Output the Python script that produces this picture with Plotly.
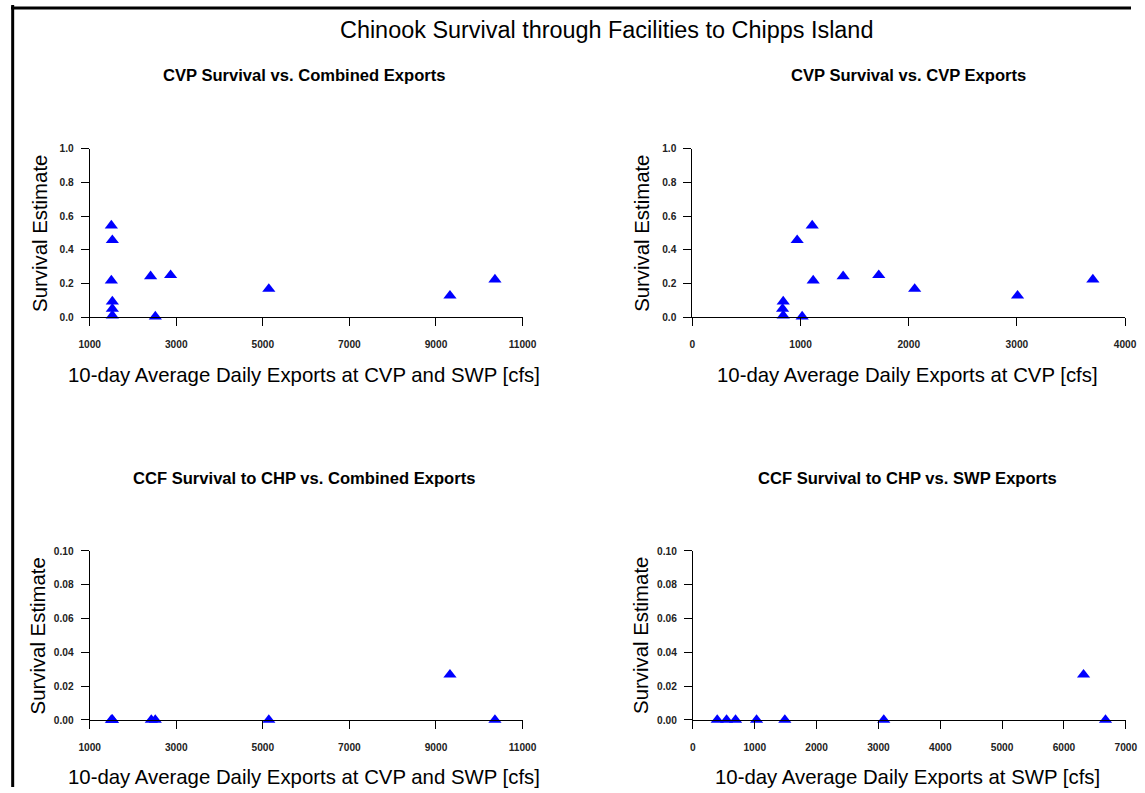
import plotly.graph_objects as go

W, H = 1145, 793

# ---------------- data ----------------
# Panel 1: CVP survival vs combined exports (CVP + SWP)
combined_exports_cvp = [1500, 1523, 1500, 1523, 1523, 1523, 2407, 2869, 2516, 5138, 9323, 10362]
cvp_survival = [0.545, 0.458, 0.218, 0.093, 0.050, 0.010, 0.243, 0.250, 0.004, 0.168, 0.128, 0.224]
# Panel 2: CVP survival vs CVP exports
cvp_exports = [1108, 969, 1117, 840, 834, 840, 1394, 1723, 1015, 2055, 3006, 3702]
# Panel 3: CCF survival to CHP vs combined exports
combined_exports_ccf = [1500, 1523, 1523, 2423, 2515, 5138, 9323, 10362]
ccf_survival = [0.0, 0.0, 0.0, 0.0, 0.0, 0.0, 0.0268, 0.0]
# Panel 4: CCF survival to CHP vs SWP exports
swp_exports = [393, 544, 689, 1029, 1486, 3086, 6317, 6672]

main_title = "Chinook Survival through Facilities to Chipps Island"
panel_titles = ["CVP Survival vs. Combined Exports", "CVP Survival vs. CVP Exports",
                "CCF Survival to CHP vs. Combined Exports", "CCF Survival to CHP vs. SWP Exports"]
x_titles = ["10-day Average Daily Exports at CVP and SWP [cfs]", "10-day Average Daily Exports at CVP [cfs]",
            "10-day Average Daily Exports at CVP and SWP [cfs]", "10-day Average Daily Exports at SWP [cfs]"]
y_title = "Survival Estimate"

x_ticks = [[1000, 3000, 5000, 7000, 9000, 11000], [0, 1000, 2000, 3000, 4000],
           [1000, 3000, 5000, 7000, 9000, 11000], [0, 1000, 2000, 3000, 4000, 5000, 6000, 7000]]
y_ticks_top = [0.0, 0.2, 0.4, 0.6, 0.8, 1.0]
y_ticks_bottom = [0.00, 0.02, 0.04, 0.06, 0.08, 0.10]

series = [(combined_exports_cvp, cvp_survival), (cvp_exports, cvp_survival),
          (combined_exports_ccf, ccf_survival), (swp_exports, ccf_survival)]

# ---------------- layout (target pixel boxes) ----------------
boxes = [  # (left, right, top, bottom) in px of the target picture
    (88.3, 521.7, 149.0, 317.3),
    (691.7, 1125.0, 149.0, 317.3),
    (88.3, 521.7, 551.0, 720.0),
    (692.3, 1125.7, 551.0, 720.0),
]
FONT = "Arial, Liberation Sans, sans-serif"

# the photographed page is shown slightly reduced and offset; compensate
SX, OX = 0.9794, 9.5
SY, OY = 0.986, 5.1
FS = 1 / 0.982


def px(x):
    return ((x - OX) / SX) / W


def py(y):
    return 1 - ((y - OY) / SY) / H


def f(s):
    return s * FS


fig = go.Figure()
layout = dict(width=W, height=H, margin=dict(l=0, r=0, t=0, b=0, pad=0),
              paper_bgcolor="white", plot_bgcolor="white", showlegend=False)

for i, ((xs, ys), (l, r, t, b)) in enumerate(zip(series, boxes)):
    n = "" if i == 0 else str(i + 1)
    fig.add_trace(go.Scatter(x=xs, y=ys, mode="markers", xaxis="x" + n, yaxis="y" + n,
                             marker=dict(symbol="triangle-up", size=f(11.3), color="#0000FF",
                                         line=dict(width=0)),
                             cliponaxis=False, hoverinfo="x+y"))
    xt = x_ticks[i]
    yt = y_ticks_top if i < 2 else y_ticks_bottom
    layout["xaxis" + n] = dict(domain=[px(l), px(r)], anchor="y" + n, range=[xt[0], xt[-1]],
                               tickvals=xt, ticktext=[str(v) for v in xt],
                               ticks="outside", ticklen=8, tickcolor="#000", tickwidth=1,
                               showline=True, linecolor="#000", linewidth=1,
                               showgrid=False, zeroline=False, ticklabelstandoff=10,
                               tickfont=dict(family=FONT, size=f(10), color="#222", weight="bold"))
    layout["yaxis" + n] = dict(domain=[py(b), py(t)], anchor="x" + n, range=[yt[0], yt[-1]],
                               tickvals=yt,
                               ticktext=[("%.1f" % v) if i < 2 else ("%.2f" % v) for v in yt],
                               ticks="outside", ticklen=8, tickcolor="#000", tickwidth=1,
                               showline=True, linecolor="#000", linewidth=1,
                               showgrid=False, zeroline=False, ticklabelstandoff=5,
                               tickfont=dict(family=FONT, size=f(10), color="#222", weight="bold"))

fig.update_layout(**layout)

ann = []
ann.append(dict(text=main_title, x=px(605.5), y=py(30), xref="paper", yref="paper",
                xanchor="center", yanchor="middle", showarrow=False,
                font=dict(family=FONT, size=f(23), color="#000")))
title_pos = [(303, 76), (908, 76), (303, 479), (907, 479)]
xtitle_pos = [(303.3, 375), (907.5, 375), (303.3, 776.7), (907.5, 776.7)]
ytitle_pos = [(38.3, 233.2), (641, 233.2), (37.5, 635.5), (640.7, 635.5)]
for i in range(4):
    ann.append(dict(text="<b>" + panel_titles[i] + "</b>", x=px(title_pos[i][0]), y=py(title_pos[i][1]),
                    xref="paper", yref="paper", xanchor="center", yanchor="middle", showarrow=False,
                    font=dict(family=FONT, size=f(16.3), color="#000")))
    ann.append(dict(text=x_titles[i], x=px(xtitle_pos[i][0]), y=py(xtitle_pos[i][1]),
                    xref="paper", yref="paper", xanchor="center", yanchor="middle", showarrow=False,
                    font=dict(family=FONT, size=f(20), color="#000")))
    ann.append(dict(text=y_title, x=px(ytitle_pos[i][0]), y=py(ytitle_pos[i][1]), textangle=-90,
                    xref="paper", yref="paper", xanchor="center", yanchor="middle", showarrow=False,
                    font=dict(family=FONT, size=f(20), color="#000")))
fig.update_layout(annotations=ann)

fig.update_layout(shapes=[
    dict(type="line", xref="paper", yref="paper", x0=max(px(9), 0.0015), x1=max(px(9), 0.0015),
         y0=0, y1=1, line=dict(color="#000", width=3)),
    dict(type="line", xref="paper", yref="paper", x0=0, x1=1, y0=py(8), y1=py(8),
         line=dict(color="#000", width=3)),
])

post = ("document.body.style.margin='0';document.body.style.padding='0';"
        "document.body.style.overflow='hidden';")

fig.write_html("out.html", config={"displayModeBar": False}, post_script=post)
